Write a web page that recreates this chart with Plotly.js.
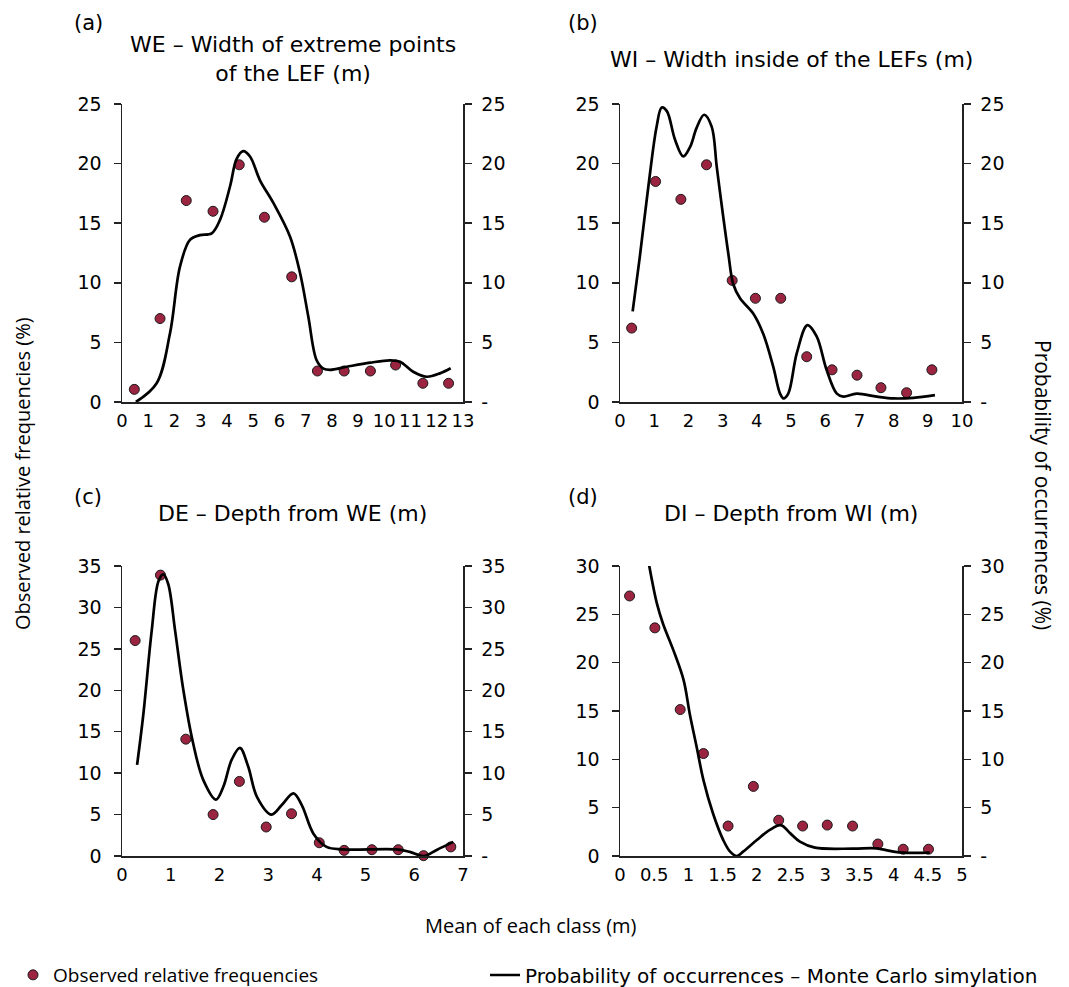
<!DOCTYPE html>
<html>
<head>
<meta charset="utf-8">
<script src="https://cdn.plot.ly/plotly-3.0.1.min.js"></script>
<style>html,body{margin:0;padding:0;background:#fff;}#chart{width:1069px;height:987px;}</style>
</head>
<body>
<div id="chart"></div>
<script>
// ---- Panel (a) WE ----
const aObsX = [0.47, 1.45, 2.45, 3.47, 4.47, 5.43, 6.47, 7.45, 8.47, 9.47, 10.43, 11.47, 12.45];
const aObsY = [1.06, 7.0, 16.9, 16.0, 19.9, 15.5, 10.5, 2.6, 2.6, 2.6, 3.1, 1.57, 1.57];
const aMcX = [0.53, 1.32, 1.83, 2.21, 2.59, 2.97, 3.42, 3.74, 4.12, 4.37, 4.62, 4.88, 5.26, 5.77, 6.40, 6.79, 7.10, 7.42, 7.68, 7.93, 8.57, 9.46, 10.22, 10.6, 11.1, 11.62, 12.12, 12.53];
const aMcY = [0.0, 1.57, 5.76, 11.35, 13.6, 14.0, 14.15, 15.3, 18.1, 20.4, 21.05, 20.6, 18.6, 16.7, 13.9, 10.8, 7.2, 3.5, 2.8, 2.7, 2.96, 3.3, 3.5, 3.38, 2.54, 2.12, 2.4, 2.83];

// ---- Panel (b) WI ----
const bObsX = [0.34, 1.04, 1.78, 2.53, 3.28, 3.96, 4.70, 5.46, 6.20, 6.93, 7.63, 8.38, 9.12];
const bObsY = [6.2, 18.5, 17.0, 19.9, 10.2, 8.7, 8.7, 3.8, 2.7, 2.25, 1.2, 0.78, 2.7];
const bMcX = [0.37, 0.58, 0.83, 1.07, 1.22, 1.37, 1.61, 1.85, 2.05, 2.24, 2.46, 2.68, 2.83, 3.02, 3.17, 3.31, 3.51, 3.90, 4.19, 4.48, 4.68, 4.78, 4.92, 5.17, 5.48, 5.75, 6.04, 6.34, 6.53, 6.92, 7.51, 8.0, 8.58, 9.21];
const bMcY = [7.6, 12.2, 18.1, 23.1, 24.7, 24.4, 22.0, 20.6, 21.4, 23.0, 24.1, 23.1, 19.7, 15.5, 12.4, 9.9, 8.7, 7.4, 5.7, 2.96, 0.7, 0.3, 0.7, 4.1, 6.45, 5.5, 2.7, 0.7, 0.45, 0.7, 0.45, 0.3, 0.35, 0.57];

// ---- Panel (c) DE ----
const cObsX = [0.27, 0.79, 1.31, 1.87, 2.41, 2.96, 3.48, 4.05, 4.56, 5.13, 5.67, 6.19, 6.75];
const cObsY = [26.0, 33.9, 14.1, 5.0, 9.0, 3.5, 5.1, 1.6, 0.68, 0.76, 0.76, 0.04, 1.1];
const cMcX = [0.31, 0.44, 0.61, 0.75, 0.85, 0.95, 1.09, 1.26, 1.46, 1.67, 1.93, 2.08, 2.25, 2.42, 2.59, 2.77, 3.07, 3.28, 3.52, 3.69, 3.93, 4.2, 4.54, 5.64, 5.91, 6.19, 6.46, 6.8];
const cMcY = [11.0, 17.2, 27.2, 33.2, 34.0, 32.8, 27.2, 20.0, 13.6, 9.16, 6.8, 8.35, 11.6, 13.06, 10.8, 7.15, 5.0, 6.15, 7.56, 6.15, 2.7, 1.1, 0.8, 0.8, 0.5, 0.0, 0.73, 1.7];

// ---- Panel (d) DI ----
const dObsX = [0.14, 0.51, 0.88, 1.22, 1.58, 1.95, 2.32, 2.67, 3.03, 3.40, 3.77, 4.14, 4.51];
const dObsY = [26.9, 23.6, 15.15, 10.6, 3.1, 7.2, 3.7, 3.1, 3.2, 3.1, 1.24, 0.7, 0.7];
const dMcX = [0.42, 0.54, 0.63, 0.78, 0.93, 1.02, 1.12, 1.22, 1.36, 1.51, 1.61, 1.71, 1.80, 2.0, 2.19, 2.35, 2.49, 2.63, 2.85, 3.41, 3.75, 4.0, 4.14, 4.53];
const dMcY = [30.3, 26.1, 24.0, 21.3, 18.2, 14.7, 11.3, 7.85, 4.4, 1.65, 0.45, 0.0, 0.45, 1.65, 2.7, 3.2, 2.34, 1.48, 0.86, 0.76, 0.79, 0.45, 0.34, 0.34];

// axis settings
const panelTitles = ["WE – Width of extreme points<br>of the LEF (m)", "WI – Width inside of the LEFs (m)", "DE – Depth from WE (m)", "DI – Depth from WI (m)"];
const panelLetters = ["(a)", "(b)", "(c)", "(d)"];
const xRanges = [[0, 13], [0, 10], [0, 7], [0, 5]];
const xDticks = [1, 1, 1, 0.5];
const yMax = [25, 25, 35, 30];
const yTickVals = [[0,5,10,15,20,25],[0,5,10,15,20,25],[0,5,10,15,20,25,30,35],[0,5,10,15,20,25,30]];
const obsLabel = "Observed relative frequencies";
const mcLabel = "Probability of occurrences – Monte Carlo simylation";
const leftTitle = "Observed relative frequencies (%)";
const rightTitle = "Probability of occurrences (%)";
const xTitle = "Mean of each class (m)";

const obsColor = "#9b2441";
const W = 1069, H = 987;
const xDom = [[122/W, 463/W], [620/W, 962/W], [122/W, 463/W], [620/W, 962/W]];
const yDom = [[(H-402)/H, (H-104)/H], [(H-402)/H, (H-104)/H], [(H-856)/H, (H-566)/H], [(H-856)/H, (H-566)/H]];

const obsX = [aObsX, bObsX, cObsX, dObsX];
const obsY = [aObsY, bObsY, cObsY, dObsY];
const mcX = [aMcX, bMcX, cMcX, dMcX];
const mcY = [aMcY, bMcY, cMcY, dMcY];

const tickFont = {family: "DejaVu Sans", size: 19, color: "#000"};
const xTickFont = {family: "DejaVu Sans", size: 18, color: "#000"};
const legFont = {family: "Open Sans", size: 19, color: "#000"};
const legFont2 = {family: "DejaVu Sans", size: 20, color: "#000"};
const data = [];
const layout = {
  width: W, height: H,
  margin: {l: 0, r: 0, t: 0, b: 0, autoexpand: false},
  paper_bgcolor: "#fff", plot_bgcolor: "rgba(0,0,0,0)",
  showlegend: true,
  legend: {orientation: "h", xref: "container", yref: "container", x: 13 / W, y: (H - 975) / H,
           xanchor: "left", yanchor: "middle", font: legFont, itemwidth: 30, bgcolor: "rgba(0,0,0,0)"},
  legend2: {orientation: "h", xref: "container", yref: "container", x: 485 / W, y: (H - 975) / H,
           xanchor: "left", yanchor: "middle", font: legFont2, itemwidth: 30, bgcolor: "rgba(0,0,0,0)"},
  annotations: [],
  font: {family: "DejaVu Sans", color: "#000"}
};

for (let i = 0; i < 4; i++) {
  const xn = i === 0 ? "" : String(i + 1);
  const yl = i === 0 ? "" : String(2 * i + 1);
  const yr = String(2 * i + 2);
  const xa = "xaxis" + xn, yla = "yaxis" + yl, yra = "yaxis" + yr;
  layout[xa] = {
    domain: xDom[i], range: xRanges[i], anchor: "y" + yl, dtick: xDticks[i], tick0: 0,
    showline: true, linecolor: "#222", linewidth: 1.5, ticks: "", showgrid: false, zeroline: false,
    tickfont: xTickFont, fixedrange: true, ticklabelstandoff: 2
  };
  const tv = yTickVals[i];
  layout[yla] = {
    domain: yDom[i], range: [0, yMax[i]], anchor: "x" + xn, tickvals: tv, ticktext: tv.map(String),
    showline: true, linecolor: "#222", linewidth: 1.5, ticks: "outside", ticklen: 7, tickwidth: 1.5, tickcolor: "#222",
    showgrid: false, zeroline: false, tickfont: tickFont, fixedrange: true, ticklabelstandoff: 8
  };
  layout[yra] = {
    overlaying: "y" + yl, side: "right", anchor: "x" + xn, range: [0, yMax[i]], tickvals: tv,
    ticktext: tv.map(v => v === 0 ? "-" : String(v)),
    showline: true, linecolor: "#222", linewidth: 1.5, ticks: "outside", ticklen: 7, tickwidth: 1.5, tickcolor: "#222",
    showgrid: false, zeroline: false, tickfont: tickFont, fixedrange: true, ticklabelstandoff: 6
  };
  data.push({
    type: "scatter", mode: "lines", x: mcX[i], y: mcY[i], xaxis: "x" + xn, yaxis: "y" + yr,
    line: {color: "#000", width: 2.7, shape: "spline", smoothing: 1},
    name: mcLabel, legend: "legend2", showlegend: i === 0, hoverinfo: "skip"
  });
  data.push({
    type: "scatter", mode: "markers", x: obsX[i], y: obsY[i], xaxis: "x" + xn, yaxis: "y" + yl,
    marker: {color: obsColor, size: 10, line: {color: "#1a1a1a", width: 1}},
    name: obsLabel, legend: "legend", showlegend: i === 0, cliponaxis: false, hoverinfo: "skip"
  });
  const cx = (xDom[i][0] + xDom[i][1]) / 2;
  // panel title
  layout.annotations.push({
    text: panelTitles[i], xref: "paper", yref: "paper", x: cx, y: (i < 2 ? (H - 59) / H : (H - 513) / H),
    xanchor: "center", yanchor: "middle", showarrow: false,
    font: {family: "DejaVu Sans", size: 22, color: "#000"}, align: "center"
  });
  // letter
  layout.annotations.push({
    text: panelLetters[i], xref: "paper", yref: "paper", x: (i % 2 === 0 ? 88 : 583) / W,
    y: (i < 2 ? (H - 23) / H : (H - 497) / H), xanchor: "center", yanchor: "middle", showarrow: false,
    font: {family: "DejaVu Sans", size: 21, color: "#000"}
  });
}

layout.annotations.push({
  text: leftTitle, xref: "paper", yref: "paper", x: 22 / W, y: (H - 474) / H, textangle: -90,
  xanchor: "center", yanchor: "middle", showarrow: false,
  font: {family: "Open Sans", size: 20, color: "#000"}
});
layout.annotations.push({
  text: rightTitle, xref: "paper", yref: "paper", x: 1043 / W, y: (H - 485) / H, textangle: 90,
  xanchor: "center", yanchor: "middle", showarrow: false,
  font: {family: "Open Sans", size: 21, color: "#000"}
});
layout.annotations.push({
  text: xTitle, xref: "paper", yref: "paper", x: 531 / W, y: (H - 925) / H,
  xanchor: "center", yanchor: "middle", showarrow: false,
  font: {family: "Open Sans", size: 20, color: "#000"}
});

Plotly.newPlot("chart", data, layout, {displayModeBar: false, staticPlot: true});
</script>
</body>
</html>
